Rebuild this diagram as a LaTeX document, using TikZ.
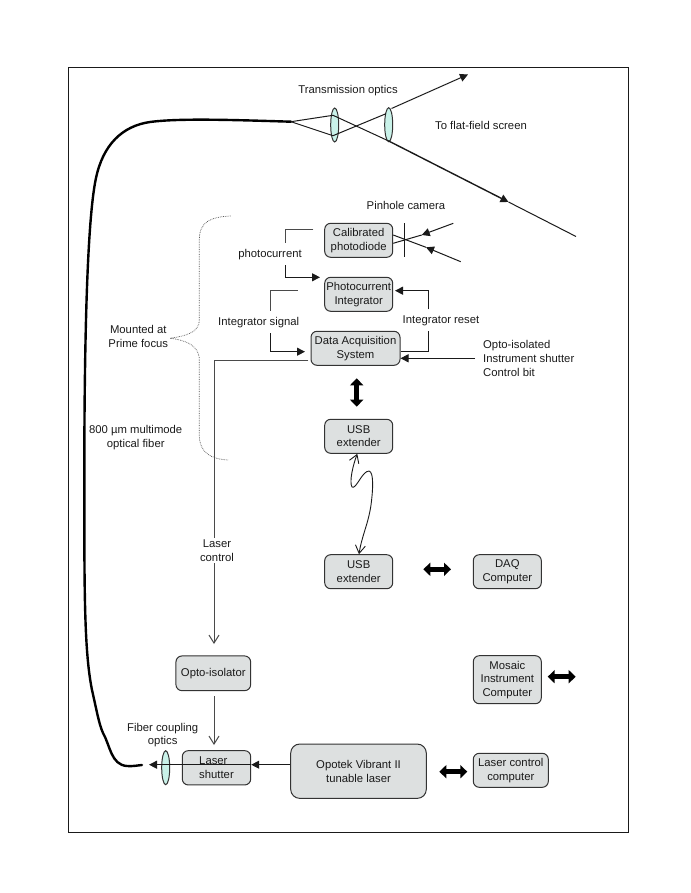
\documentclass[tikz,border=0pt]{standalone}
\usepackage{fontspec}
\setmainfont{Liberation Sans}
\usetikzlibrary{arrows.meta,shapes.geometric}
\definecolor{boxfill}{HTML}{DDE0E0}
\definecolor{boxline}{HTML}{333333}
\definecolor{lensfill}{HTML}{C9F2E9}
\definecolor{inkc}{HTML}{1A1A1A}
\definecolor{wirec}{HTML}{4A4A4A}
\tikzset{
  x=1pt,y=-1pt,
  every node/.style={font=\fontsize{11.3}{13.6}\selectfont,text=inkc,inner sep=0pt,align=center},
  blockbox/.style={draw=boxline,fill=boxfill,line width=1pt,rounded corners=6pt,minimum width=#1},
  blockbox/.default=68pt,
  lens/.style={ellipse,draw=boxline,fill=lensfill,line width=1pt,minimum width=8pt,minimum height=34pt},
  label/.style={},
  wire/.style={draw=inkc,line width=1pt},
  graywire/.style={draw=wirec,line width=1pt},
  solidtip/.style={-{Triangle[length=8pt,width=8pt]}},
  opentip/.style={-{Straight Barb[length=8pt,width=10pt]}},
  fat/.style={draw=black,line width=4.5pt,{Triangle[length=7pt,width=13pt]}-{Triangle[length=7pt,width=13pt]}},
  bracket/.style={draw=wirec,line width=0.7pt,densely dotted},
}
\begin{document}
\begin{tikzpicture}
\useasboundingbox (0,0) rectangle (690,893);
\draw[line width=1pt,draw=inkc] (68,68) rectangle (628,832);

% boxes
\node[blockbox,minimum height=34pt] (diode) at (358.7,240.3) {Calibrated\\photodiode};
\node[blockbox,minimum height=34pt] (integ) at (358.7,294.3) {Photocurrent\\Integrator};
\node[blockbox=89pt,minimum height=34pt] (daq) at (355.5,348.3) {Data Acquisition\\System};
\node[blockbox,minimum height=34pt] (usba) at (358.7,436.3) {USB\\extender};
\node[blockbox,minimum height=34pt] (usbb) at (358.7,571.7) {USB\\extender};
\node[blockbox,minimum height=34pt] (daqpc) at (507.3,571.7) {DAQ\\Computer};
\node[blockbox=74.7pt,minimum height=34.7pt] (opto) at (213.3,673.3) {Opto-isolator};
\node[blockbox,minimum height=48pt] (mosaic) at (507.3,679.7) {Mosaic\\Instrument\\Computer};
\node[blockbox=68.4pt,minimum height=34.3pt,align=left] (shutter) at (216.5,767.8) {Laser\\shutter};
\node[blockbox=135.6pt,minimum height=54.3pt,rounded corners=9pt] (opotek) at (358.5,771.2) {Opotek Vibrant II\\tunable laser};
\node[blockbox=75pt,minimum height=34pt] (lasercomp) at (510.8,770.3) {Laser control\\computer};

% lenses
\node[lens] (lensa) at (334.7,125) {};
\node[lens] (lensb) at (388.7,124.7) {};
\node[lens] (lensc) at (165.7,767.7) {};

% free end points
\coordinate (apex) at (291,121.7);
\coordinate (raya) at (333,115.3);
\coordinate (rayb) at (333,135.7);
\coordinate (rayc) at (388.7,141);
\coordinate (rayd) at (386,113.7);
\coordinate (rayup) at (391.5,108.5);
\coordinate (uptip) at (468,74.5);
\coordinate (midtip) at (508.5,202);
\coordinate (rayend) at (576,236.5);
\coordinate (fiberend) at (142,765);
\coordinate (beamy) at (0,764.7);
\coordinate (beamtip) at (149,764.7);

% fibre
\draw[line width=2.4pt,draw=black,line cap=round]
  (apex) .. controls (235,120) and (180,118) .. (150,122)
  .. controls (122,126) and (103,145) .. (96,178)
  .. controls (88,215) and (84.5,320) .. (84.3,467)
  .. controls (84.3,590) and (84,650) .. (92,690)
  .. controls (97,712) and (99,724) .. (103,733)
  .. controls (110,745) and (111,765) .. (127,766)
  .. controls (132,766.5) and (137,765.5) .. (fiberend);

% transmission optics rays
\draw[wire] (apex) -- (raya);
\draw[wire] (apex) -- (rayb);
\draw[wire] (raya) -- (rayc);
\draw[wire] (rayb) -- (rayd);
\draw[wire,solidtip] (rayup) -- (uptip);
\draw[wire,line width=1.4pt,solidtip] (rayc) -- (midtip);
\draw[wire] (midtip) -- (rayend);

% pinhole camera
\coordinate (pinup) at (404.3,223.3);
\coordinate (pindown) at (404.3,257.3);
\coordinate (rayinaend) at (453.3,223.3);
\coordinate (rayinatip) at (421.7,235);
\coordinate (rayinb) at (460.7,261.7);
\coordinate (rayinbtip) at (426,247.3);
\draw[wire] (pinup) -- (pindown);
\draw[wire,solidtip] (rayinaend) -- (rayinatip);
\draw[wire] (rayinatip) -- (diode.east |- 0,243.3);
\draw[wire,solidtip] (rayinb) -- (rayinbtip);
\draw[wire] (rayinbtip) -- (diode.east |- 0,235);

% photocurrent
\coordinate (pca) at (313.3,229.7);
\coordinate (pcb) at (285.7,243.3);
\coordinate (pcc) at (285.7,265);
\coordinate (pcd) at (320,277.3);
\draw[graywire] (pca) -| (pcb);
\draw[wire,solidtip] (pcc) |- (pcd);

% integrator signal
\coordinate (isa) at (297.7,290.7);
\coordinate (isb) at (270.3,311);
\coordinate (isc) at (270.3,333.3);
\coordinate (isd) at (305,351.7);
\draw[graywire] (isa) -| (isb);
\draw[wire,solidtip] (isc) |- (isd);

% integrator reset
\coordinate (ira) at (428.3,330.7);
\coordinate (irb) at (428.3,309.3);
\coordinate (irc) at (395,290.7);
\draw[wire] (daq.east |- 0,351.7) -| (ira);
\draw[wire,solidtip] (irb) |- (irc);

% shutter control
\coordinate (scbit) at (475,358.3);
\draw[wire,solidtip] (scbit) -- (daq.east |- scbit);

% laser control
\coordinate (lca) at (308.3,360);
\coordinate (lcb) at (214,644);
\draw[graywire,opentip] (lca) -| (lcb);
\node[fill=white,inner ysep=2pt,inner xsep=1pt] (lclabel) at (217,550.5) {Laser\\control};

% lower links
\coordinate (osa) at (214,696);
\coordinate (osb) at (214,745);
\draw[graywire,opentip] (osa) -- (osb);
\draw[wire,solidtip] (opotek.west |- beamy) -- (shutter.east |- beamy);
\draw[wire,solidtip] (shutter.east |- beamy) -- (beamtip);

% USB squiggle
\draw[wire,line width=0.9pt,{Straight Barb[length=8pt,width=10pt]}-{Straight Barb[length=8pt,width=10pt]}]
  (usba.south -| 357.3,0) .. controls (353,465) and (349,482) .. (352,487)
  .. controls (356,490) and (362,471) .. (369,471)
  .. controls (374,472) and (373,490) .. (371,505)
  .. controls (368,525) and (362,535) .. (usbb.north -| 359,0);

% thick double arrows
\coordinate (fa) at (356.7,378.3);
\coordinate (fb) at (356.7,406.7);
\coordinate (fc) at (423.3,569.3);
\coordinate (fd) at (451,569.3);
\coordinate (fe) at (547.7,676.7);
\coordinate (ff) at (575.7,676.7);
\coordinate (fg) at (439.3,771.7);
\coordinate (fh) at (467.3,771.7);
\draw[fat] (fa) -- (fb);
\draw[fat] (fc) -- (fd);
\draw[fat] (fe) -- (ff);
\draw[fat] (fg) -- (fh);

% bracket
\coordinate (bra) at (230.7,216);
\coordinate (brtip) at (170,338.3);
\coordinate (brb) at (228,460);
\draw[bracket] (bra) .. controls (210,217) and (199.3,222) .. (199.3,240)
  -- (199.3,320) .. controls (199.3,333) and (185,336) .. (brtip)
  .. controls (185,340) and (199.3,345) .. (199.3,360)
  -- (199.3,435) .. controls (199.3,452) and (210,459) .. (brb);

% labels
\node[label] (ltrans) at (348,91) {Transmission optics};
\node[label] (lflat) at (481,125.7) {To flat-field screen};
\node[label] (lpin) at (406,205.7) {Pinhole camera};
\node[label] (lpc) at (270,254.3) {photocurrent};
\node[label] (lis) at (258.7,322.3) {Integrator signal};
\node[label] (lir) at (441,321) {Integrator reset};
\node[label,anchor=west,align=left] (lshut) at (483,358.5) {Opto-isolated\\Instrument shutter\\Control bit};
\node[label] (lmount) at (138.3,336.7) {Mounted at\\Prime focus};
\node[label] (lfiber) at (135.7,437.5) {800 µm multimode\\optical fiber};
\node[label] (lcoup) at (162.7,735) {Fiber coupling\\optics};
\end{tikzpicture}
\end{document}
